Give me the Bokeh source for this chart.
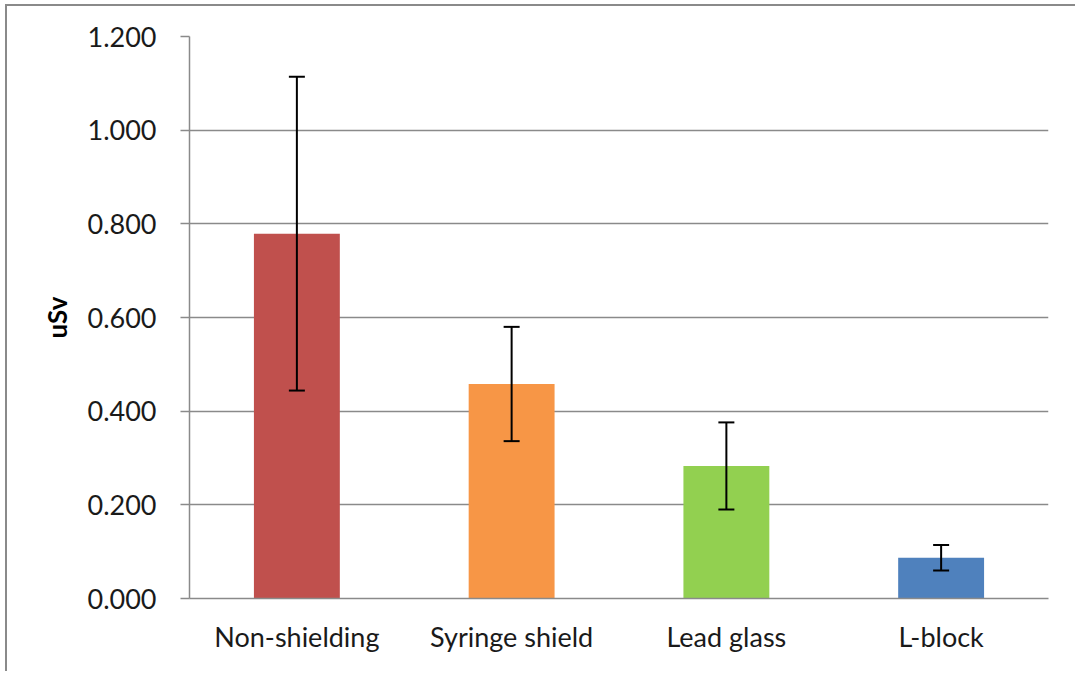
from bokeh.plotting import figure
from bokeh.models import ColumnDataSource, Range1d, Whisker, TeeHead, NumeralTickFormatter, FixedTicker
from bokeh.embed import file_html
from bokeh.resources import INLINE

categories = ["Non-shielding", "Syringe shield", "Lead glass", "L-block"]
values = [0.779, 0.458, 0.283, 0.087]
errors = [0.335, 0.122, 0.093, 0.027]
colors = ["#C0504D", "#F79646", "#92D050", "#4F81BD"]
y_ticks = [0.0, 0.2, 0.4, 0.6, 0.8, 1.0, 1.2]

src = ColumnDataSource(dict(
    cat=categories, val=values, color=colors,
    upper=[v + e for v, e in zip(values, errors)],
    lower=[v - e for v, e in zip(values, errors)],
))

FONT = "Lato"
TEXT = "#1a1a1a"
GRID = "#8a8a8a"

p = figure(x_range=categories, y_range=Range1d(0, 1.2), width=1070, height=667,
           output_backend="svg", toolbar_location=None,
           min_border_left=182, min_border_right=29, min_border_top=30, min_border_bottom=75)
p.styles = {"border-top": "2px solid #8a8a8a", "border-left": "2px solid #8a8a8a",
            "margin-left": "5px", "margin-top": "4px"}
p.outline_line_color = None
p.background_fill_color = "white"
p.border_fill_color = "white"

p.vbar(x="cat", top="val", width=0.4, color="color", line_color=None, source=src)

w = Whisker(base="cat", upper="upper", lower="lower", source=src, level="overlay",
            line_color="black", line_width=2,
            upper_head=TeeHead(size=16, line_color="black", line_width=2),
            lower_head=TeeHead(size=16, line_color="black", line_width=2))
p.add_layout(w)

p.xgrid.grid_line_color = None
p.ygrid.grid_line_color = GRID
p.ygrid.grid_line_width = 1.5
p.yaxis.ticker = FixedTicker(ticks=y_ticks)
p.yaxis.formatter = NumeralTickFormatter(format="0.000")

for ax in (p.xaxis, p.yaxis):
    ax.axis_line_color = GRID
    ax.axis_line_width = 1.5
    ax.major_label_text_font = FONT
    ax.major_label_text_color = TEXT
    ax.minor_tick_line_color = None

p.xaxis.major_tick_line_color = None
p.xaxis.major_label_text_font_size = "27px"
p.xaxis.major_label_standoff = 15

p.yaxis.major_tick_line_color = GRID
p.yaxis.major_tick_line_width = 1.5
p.yaxis.major_tick_out = 9
p.yaxis.major_tick_in = 0
p.yaxis.major_label_text_font_size = "27px"
p.yaxis.major_label_standoff = 24
p.yaxis.axis_label = "uSv"
p.yaxis.axis_label_text_font = FONT
p.yaxis.axis_label_text_font_style = "bold"
p.yaxis.axis_label_text_font_size = "26px"
p.yaxis.axis_label_text_color = "#000000"
p.yaxis.axis_label_standoff = 11

open("out.html", "w").write(file_html(p, INLINE))
